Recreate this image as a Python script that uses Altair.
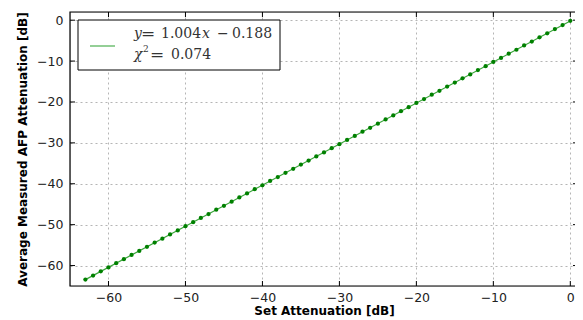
import altair as alt
import pandas as pd

# Set attenuation values [dB]
set_att = [-63, -62, -61, -60, -59, -58, -57, -56, -55, -54, -53, -52, -51, -50, -49, -48,
           -47, -46, -45, -44, -43, -42, -41, -40, -39, -38, -37, -36, -35, -34, -33, -32,
           -31, -30, -29, -28, -27, -26, -25, -24, -23, -22, -21, -20, -19, -18, -17, -16,
           -15, -14, -13, -12, -11, -10, -9, -8, -7, -6, -5, -4, -3, -2, -1, 0]
# Average measured AFP attenuation [dB]
measured = [-63.42, -62.46, -61.40, -60.45, -59.41, -58.44, -57.39, -56.43, -55.41, -54.37,
            -53.43, -52.38, -51.41, -50.36, -49.40, -48.35, -47.40, -46.34, -45.39, -44.37,
            -43.33, -42.38, -41.34, -40.37, -39.32, -38.36, -37.31, -36.35, -35.30, -34.34,
            -33.31, -32.33, -31.29, -30.33, -29.28, -28.32, -27.27, -26.31, -25.30, -24.26,
            -23.30, -22.25, -21.29, -20.24, -19.28, -18.23, -17.27, -16.24, -15.26, -14.22,
            -13.26, -12.21, -11.25, -10.20, -9.24, -8.20, -7.23, -6.19, -5.22, -4.18,
            -3.21, -2.17, -1.20, -0.17]
# Linear fit endpoints (y = 1.004x - 0.188)
fit_x = [-63, 0]
fit_y = [-63.44, -0.19]

tick_vals = [-60, -50, -40, -30, -20, -10, 0]

W, H = 508, 274
FONT = "DejaVu Sans"
SERIF = "DejaVu Serif"

xs = alt.Scale(domain=[-65, 1], nice=False, zero=False)
ys = alt.Scale(domain=[-65, 2], nice=False, zero=False)

pts_df = pd.DataFrame({"x": set_att, "y": measured})
fit_df = pd.DataFrame({"x": fit_x, "y": fit_y})
tick_df = pd.DataFrame({"t": tick_vals})
one = pd.DataFrame({"k": [0]})

base_axes = alt.Chart(pts_df).mark_point(opacity=0).encode(
    x=alt.X("x:Q", scale=xs, title="Set Attenuation [dB]",
            axis=alt.Axis(values=tick_vals, ticks=False, domain=False, grid=True,
                          gridDash=[2, 3], gridColor="#b5b5b5", gridWidth=1,
                          labelPadding=5, labelFontSize=12.5, labelFont=FONT, labelColor="#222",
                          titleFont=FONT, titleFontSize=12, titleFontWeight="bold",
                          titlePadding=2, labelFlush=False)),
    y=alt.Y("y:Q", scale=ys, title="Average Measured AFP Attenuation [dB]",
            axis=alt.Axis(values=tick_vals, ticks=False, domain=False, grid=True,
                          gridDash=[2, 3], gridColor="#b5b5b5", gridWidth=1,
                          labelPadding=7, labelFontSize=12.5, labelFont=FONT, labelColor="#222",
                          titleFont=FONT, titleFontSize=12, titleFontWeight="bold",
                          titlePadding=7, labelFlush=False)),
)

xt_bot = alt.Chart(tick_df).mark_rule(color="black", strokeWidth=1).encode(
    x=alt.X("t:Q", scale=xs), y=alt.value(H), y2=alt.value(H - 5))
xt_top = alt.Chart(tick_df).mark_rule(color="black", strokeWidth=1).encode(
    x=alt.X("t:Q", scale=xs), y=alt.value(0), y2=alt.value(5))
yt_left = alt.Chart(tick_df).mark_rule(color="black", strokeWidth=1).encode(
    y=alt.Y("t:Q", scale=ys), x=alt.value(0), x2=alt.value(5))
yt_right = alt.Chart(tick_df).mark_rule(color="black", strokeWidth=1).encode(
    y=alt.Y("t:Q", scale=ys), x=alt.value(W), x2=alt.value(W - 5))

fit_line = alt.Chart(fit_df).mark_line(color="#3aa63a", strokeWidth=1.2).encode(
    x=alt.X("x:Q", scale=xs), y=alt.Y("y:Q", scale=ys))
points = alt.Chart(pts_df).mark_circle(color="#008000", size=18, opacity=1).encode(
    x=alt.X("x:Q", scale=xs), y=alt.Y("y:Q", scale=ys))

frame = alt.Chart(one).mark_rect(fillOpacity=0, stroke="black", strokeWidth=1.2).encode(
    x=alt.value(0), x2=alt.value(W), y=alt.value(0), y2=alt.value(H))

leg_box = alt.Chart(one).mark_rect(fill="white", stroke="black", strokeWidth=1).encode(
    x=alt.value(8), x2=alt.value(210), y=alt.value(8), y2=alt.value(58))
leg_line = alt.Chart(one).mark_rule(color="#4caf50", strokeWidth=1.2).encode(
    x=alt.value(20), x2=alt.value(45), y=alt.value(34))

def txt(s, x, y, size=14, style="normal"):
    return alt.Chart(one).mark_text(text=s, align="left", baseline="middle",
                                    font=SERIF, fontSize=size, fontStyle=style,
                                    color="#333").encode(x=alt.value(x), y=alt.value(y))

legend_txt = [
    txt("y", 64, 22, style="italic"),
    txt("=", 71, 22, size=17),
    txt("1.004", 91, 22),
    txt("x", 132, 22, style="italic"),
    txt("\u2212", 147, 22),
    txt("0.188", 162, 22),
    txt("\u03c7", 64, 43, style="italic"),
    txt("2", 73, 37, size=9),
    txt("=", 80, 43, size=17),
    txt("0.074", 101, 43),
]

chart = alt.layer(base_axes, fit_line, points, xt_bot, xt_top, yt_left, yt_right, frame,
                  leg_box, leg_line, *legend_txt).properties(
    width=W, height=H,
    padding={"left": 62, "top": 4, "right": -3, "bottom": 36},
    autosize=alt.AutoSizeParams(type="none"),
).configure_view(stroke=None).configure(background="white")

chart.save("out.html", embed_options={"renderer": "svg", "actions": False})
